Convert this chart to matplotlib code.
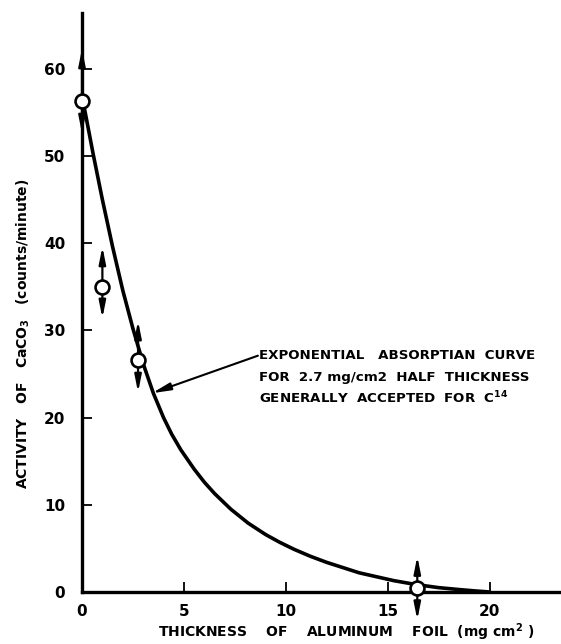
import matplotlib
matplotlib.use("Agg")
import matplotlib.pyplot as plt

# measured points (thickness mg/cm2, counts/minute) and their error half-widths
thickness = [0.0, 1.0, 2.75, 16.45]
activity = [56.3, 35.0, 26.6, 0.5]
err_up = [6.0, 4.6, 4.5, 3.6]
err_down = [3.7, 3.6, 3.7, 3.7]

# exponential absorption curve
curve_x = [0.05, 0.55, 1.0, 1.5, 2.0, 2.5, 3.0, 3.5, 4.0, 4.4, 4.85, 5.5, 6.0,
           6.5, 7.3, 8.15, 9.0, 9.7, 10.4, 11.2, 12.0, 13.6, 15.3, 16.4, 17.5,
           18.5, 19.3, 20.0]
curve_y = [56.3, 50.2, 45.0, 39.6, 34.6, 30.2, 26.2, 22.8, 20.0, 18.1, 16.3,
           14.1, 12.6, 11.3, 9.5, 7.9, 6.6, 5.7, 4.9, 4.1, 3.4, 2.2, 1.3, 0.85,
           0.5, 0.28, 0.12, 0.0]

xticks = [0, 5, 10, 15, 20]
yticks = [0, 10, 20, 30, 40, 50, 60]

plt.rcParams["font.family"] = "DejaVu Sans"
fig = plt.figure(figsize=(5.61, 6.44), dpi=100)
ax = fig.add_axes([82 / 561, 52 / 644, (561 - 82) / 561, (592 - 13) / 644])

ax.plot(curve_x, curve_y, color="black", lw=2.6, solid_capstyle="round",
        solid_joinstyle="round", zorder=3)

# error arrows (up and down) on each point
for x, y, up, dn in zip(thickness, activity, err_up, err_down):
    for tip in (y + up, y - dn):
        ax.annotate("", xy=(x, tip), xytext=(x, y), annotation_clip=False,
                    arrowprops=dict(arrowstyle="-|>,head_length=1.0,head_width=0.2",
                                    color="black", lw=1.6, shrinkA=0, shrinkB=0),
                    zorder=4)

ax.plot(thickness, activity, "o", ms=10, mfc="white", mec="black", mew=1.9,
        clip_on=False, zorder=5)

# annotation
ax.annotate("", xy=(3.43, 22.8), xytext=(8.63, 27.1),
            arrowprops=dict(arrowstyle="-|>,head_length=1.1,head_width=0.22",
                            color="black", lw=1.5, shrinkA=0, shrinkB=0))
note = ["EXPONENTIAL   ABSORPTIAN  CURVE",
        "FOR  2.7 mg/cm2  HALF  THICKNESS",
        r"GENERALLY  ACCEPTED  FOR  C$^{\mathbf{14}}$"]
for i, line in enumerate(note):
    ax.text(8.7, 27.1 - i * 2.45, line, fontsize=9.6, fontweight="bold",
            ha="left", va="center")

ax.set_xlim(0, 23.5)
ax.set_ylim(0, 66.4)
ax.set_xticks(xticks)
ax.set_yticks(yticks)
ax.tick_params(direction="in", length=7, width=1.3, labelsize=11, pad=9)
ax.tick_params(axis="y", pad=12)
for lab in ax.get_xticklabels() + ax.get_yticklabels():
    lab.set_fontweight("bold")

for s in ["top", "right"]:
    ax.spines[s].set_visible(False)
for s in ["left", "bottom"]:
    ax.spines[s].set_linewidth(2.4)

fig.text(346 / 561, 1 - 632 / 644,
         r"THICKNESS    OF    ALUMINUM    FOIL  (mg cm$^{\mathbf{2}}$ )",
         fontsize=10, fontweight="bold", ha="center", va="center")
fig.text(23 / 561, 1 - 334 / 644,
         r"ACTIVITY   OF   CaCO$_{\mathbf{3}}$   (counts/minute)",
         fontsize=10, fontweight="bold", ha="center", va="center", rotation=90)

fig.savefig("out.png", dpi=100)
